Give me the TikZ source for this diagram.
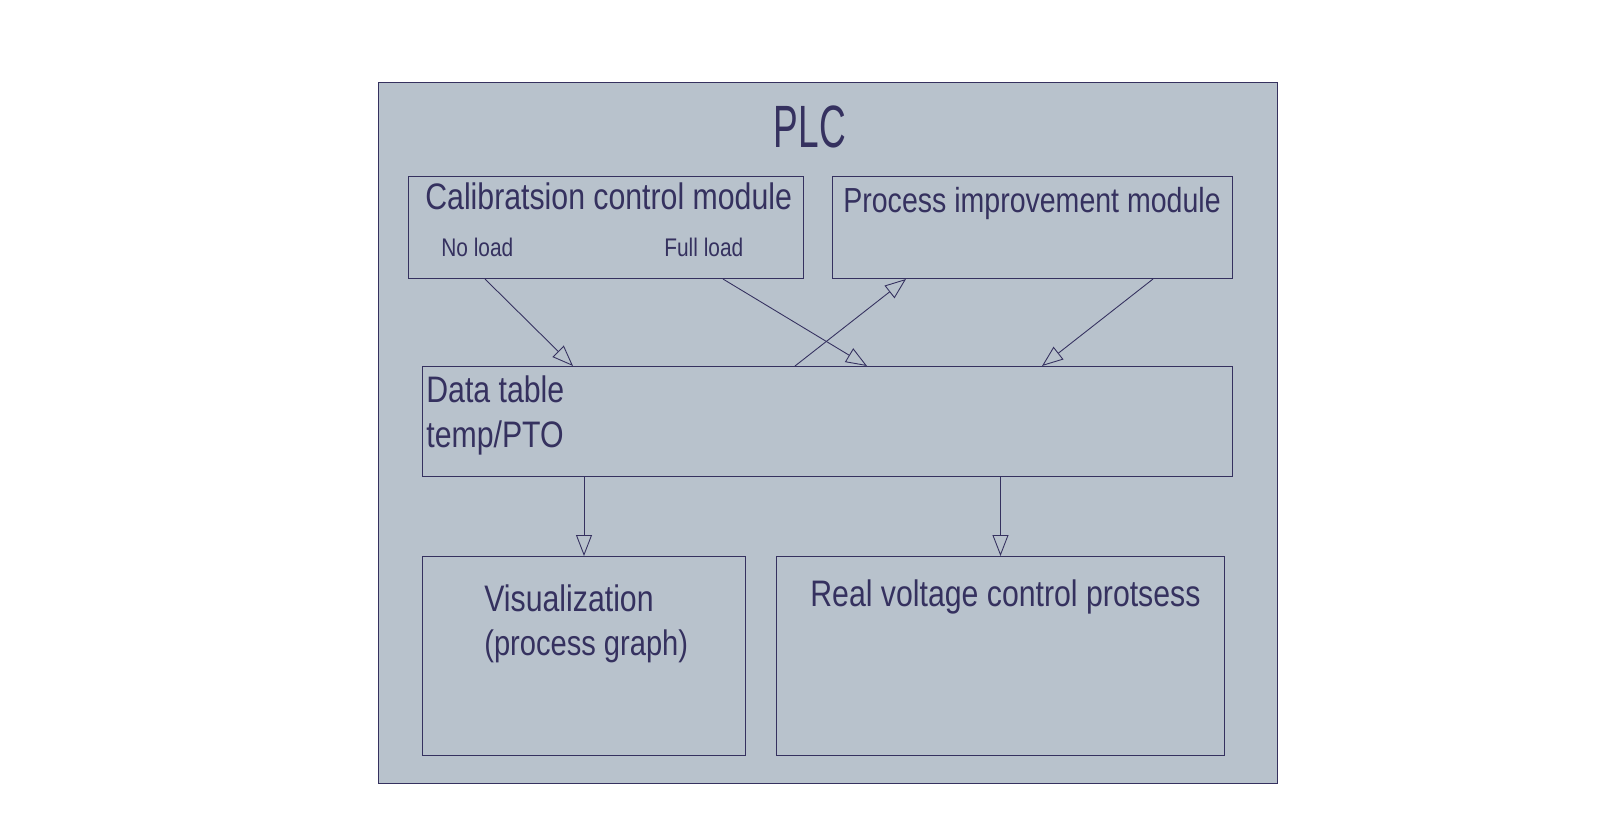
\documentclass[tikz,border=0pt]{standalone}
\usepackage{fontspec}
\setmainfont[FakeStretch=0.82]{Liberation Sans}
\newfontfamily\plcfont[FakeStretch=0.62]{Liberation Sans}
\usepackage{xcolor}
\usetikzlibrary{positioning, arrows.meta, calc}
\definecolor{ink}{HTML}{35315F}
\definecolor{panel}{HTML}{B8C2CC}

\begin{document}
\begin{tikzpicture}[x=0.02cm, y=-0.02cm, font=\fontsize{21}{25}\selectfont,
  box/.style={draw=ink, line width=0.6pt, fill=panel, inner sep=0pt, anchor=north west},
  txt/.style={text=ink, inner sep=0pt, anchor=base west},
  arr/.style={-{Triangle[open, length=0.42cm, width=0.32cm]}, draw=ink, line width=0.5pt}
]
  \useasboundingbox (0,0) rectangle (1606,830);

  % outer PLC frame
  \node[box, minimum width=17.98cm, minimum height=14.02cm] (plc) at (378,82) {};
  \node[txt, anchor=base, font=\plcfont\fontsize{34}{40}\selectfont] (plctitle) at (810,148) {PLC};

  % modules
  \node[box, minimum width=7.9cm, minimum height=2.04cm] (cal) at (408,176) {};
  \node[box, minimum width=8.0cm, minimum height=2.04cm] (proc) at (832,176) {};
  \node[box, minimum width=16.2cm, minimum height=2.2cm] (data) at (422,366) {};
  \node[box, minimum width=6.46cm, minimum height=3.98cm] (vis) at (422,556) {};
  \node[box, minimum width=8.96cm, minimum height=3.98cm] (real) at (776,556) {};

  % texts
  \node[txt] (caltxt) at (425,210) {Calibratsion control module};
  \node[txt, font=\fontsize{14.5}{17}\selectfont] (noload) at (441,257) {No load};
  \node[txt, font=\fontsize{14.5}{17}\selectfont] (fullload) at (664,257) {Full load};
  \node[txt, font=\fontsize{19.8}{24}\selectfont] (proctxt) at (843,213) {Process improvement module};
  \node[txt] (datatxt) at (426,403) {Data table};
  \node[txt] (datatxtb) at (426,448) {temp/PTO};
  \node[txt] (vistxt) at (484,612) {Visualization};
  \node[txt, font=\fontsize{20.2}{24}\selectfont] (vistxtb) at (484,656) {(process graph)};
  \node[txt] (realtxt) at (810,607) {Real voltage control protsess};

  % connectors
  \draw[arr] ($(cal.south west)+(77,0)$) -- ($(data.north west)+(151,0)$);
  \draw[arr] ($(cal.south west)+(315,0)$) -- ($(data.north west)+(445,0)$);
  \draw[arr] ($(data.north west)+(373,0)$) -- ($(proc.south west)+(74,0)$);
  \draw[arr] ($(proc.south west)+(321,0)$) -- ($(data.north west)+(620,0)$);
  \draw[arr] (data.south -| vis.north) -- (vis.north);
  \draw[arr] (data.south -| real.north) -- (real.north);
\end{tikzpicture}
\end{document}
